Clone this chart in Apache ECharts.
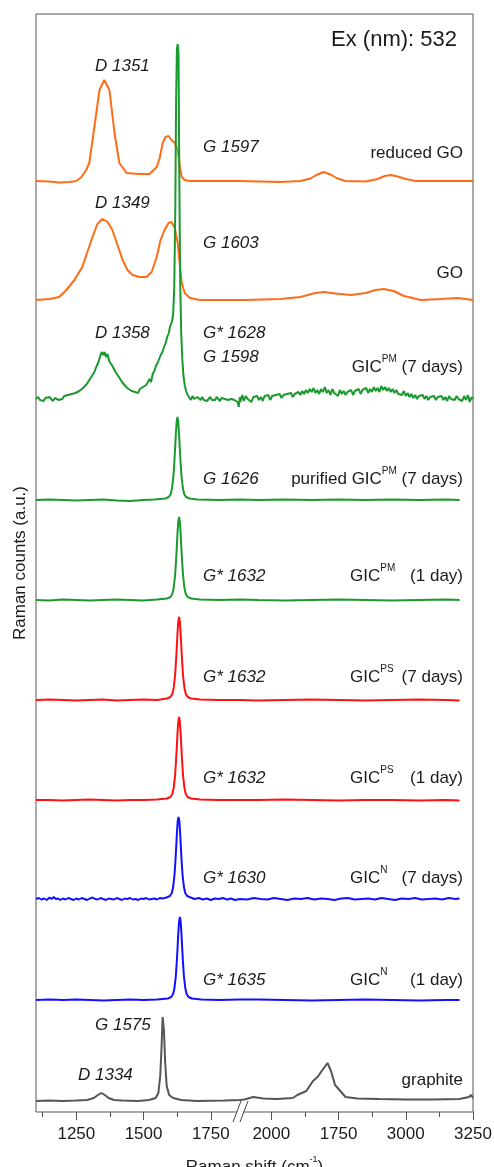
<!DOCTYPE html>
<html>
<head>
<meta charset="utf-8">
<script src="https://cdn.jsdelivr.net/npm/echarts@6/dist/echarts.min.js"></script>
<style>
html, body { margin: 0; padding: 0; background: #fff; }
#chart { width: 494px; height: 1167px; }
</style>
</head>
<body>
<div id="chart"></div>
<script>
var FONT = '"Liberation Sans", Arial, sans-serif';

// broken x axis: 1860..2385 cm-1 is cut out
var breakFrom = 1860, breakTo = 2385;
function toAxis(v) { return v <= breakFrom ? v : v - (breakTo - breakFrom); }

var majorTicks = [1250, 1500, 1750, 2500, 2750, 3000, 3250];
var tickLabels = ['1250', '1500', '1750', '2000', '1750', '3000', '3250'];
var minorTicks = [1125, 1375, 1625, 2625, 2875, 3125];

var names = ['reduced GO', 'GO', 'GIC PM 7d', 'purified GIC PM 7d', 'GIC PM 1d',
             'GIC PS 7d', 'GIC PS 1d', 'GIC N 7d', 'GIC N 1d', 'graphite'];
var colors = ['#ff6c17', '#ff6c17', '#1a9a2e', '#1a9a2e', '#1a9a2e',
              '#ff1111', '#ff1111', '#1111ff', '#1111ff', '#555555'];
// vertical offset of each trace (a.u.)
var baselines = [931, 812, 713, 612, 512, 412, 312, 213, 112, 11];

// [Raman shift cm-1, counts above baseline]
var rgo = [[1100,0],[1150,-0.5],[1186,-1.5],[1224,-1],[1250,0],[1269,4],[1287,11],[1298,18],[1317,54],[1336,91],[1354,101],[1373,91],[1392,48],[1410,18],[1437,8],[1485,7],[1522,7],[1549,14],[1560,23],[1571,38],[1582,44],[1593,45],[1604,41],[1616,38],[1627,31],[1634,16],[1642,4],[1653,1],[1672,0],[1858,0],
  [2385,-1],[2530,-1],[2608,0],[2646,2.5],[2668,6],[2694,9],[2720,6.5],[2746,2.5],[2776,0],[2850,-0.5],[2896,2],[2922,5],[2944,6],[2970,4.5],[3000,2],[3037,0],[3250,0]];

var go = [[1100,0],[1149,1],[1186,3],[1213,10],[1243,20],[1272,33],[1291,48],[1310,63],[1328,76],[1347,81],[1366,78],[1384,70],[1403,55],[1422,40],[1440,30],[1459,25],[1485,23],[1511,23],[1530,28],[1549,43],[1563,60],[1578,70],[1593,77],[1604,78],[1616,72],[1627,57],[1634,38],[1642,17],[1653,7],[1672,2],[1709,0],[1858,0],
  [2403,0],[2534,1],[2608,3],[2664,7],[2694,8],[2739,6.5],[2795,5],[2851,7],[2888,10],[2918,11],[2955,9],[2993,4],[3056,0],[3131,1],[3194,2],[3250,0]];

var gicPm7 = [[1100,0],[1108,2],[1115,-1],[1122,1],[1128,-2],[1135,1],[1142,-1],[1150,2],[1156,0],[1163,-2],[1170,1],[1177,2],[1184,-1],[1191,1],[1198,0],[1205,3],[1212,1],[1219,4],[1226,2],[1233,5],[1240,3],[1247,6],[1254,4],[1261,8],[1268,7],[1275,11],[1282,10],[1289,15],[1296,17],[1303,21],[1310,24],[1317,27],[1324,32],[1331,36],[1338,42],[1344,47],[1350,44],[1355,47],[1360,42],[1366,45],[1372,38],[1378,40],[1384,33],[1390,31],[1396,27],[1402,28],[1408,22],[1414,20],[1420,17],[1426,18],[1432,13],[1438,14],[1444,10],[1450,11],[1456,8],[1462,10],[1468,7],[1474,9],[1480,6],[1486,10],[1492,8],[1498,12],[1504,10],[1510,14],[1516,12],[1522,20],[1528,17],[1534,25],[1540,28],[1546,33],[1552,36],[1558,40],[1564,44],[1570,47],[1576,52],[1582,56],[1588,62],[1594,66],[1598,72],[1602,70],[1606,78],[1610,85],[1614,110],[1618,190],[1621,300],[1624,350],[1627,355],[1630,345],[1633,220],[1636,120],[1640,66],[1644,40],[1648,24],[1653,14],[1658,8],[1664,4],[1670,2],[1676,-1],[1682,3],[1688,0],[1694,-2],[1700,2],[1706,0],[1712,-1],[1718,2],[1724,-1],[1730,1],[1736,-2],[1742,0],[1748,2],[1754,-1],[1760,1],[1766,-1],[1772,2],[1778,0],[1784,-2],[1790,1],[1796,-1],[1802,0],[1808,2],[1814,-1],[1820,1],[1826,0],[1832,2],[1838,-1],[1844,1],[1850,-3],[1854,-8],[1858,2],
  [2385,-3],[2392,4],[2398,-2],[2405,3],[2412,0],[2419,2],[2426,-3],[2433,2],[2440,0],[2447,3],[2454,-1],[2461,2],[2468,-2],[2475,3],[2482,1],[2489,4],[2496,-1],[2503,3],[2510,1],[2517,4],[2524,2],[2531,5],[2538,1],[2545,4],[2552,2],[2559,5],[2566,3],[2573,6],[2580,2],[2587,5],[2594,3],[2601,7],[2608,4],[2615,8],[2622,5],[2629,9],[2636,6],[2643,10],[2650,7],[2657,11],[2664,6],[2671,9],[2678,5],[2685,10],[2692,7],[2699,12],[2706,6],[2713,9],[2720,4],[2727,10],[2734,6],[2741,8],[2748,3],[2755,9],[2762,5],[2769,8],[2776,4],[2783,7],[2790,5],[2797,9],[2804,4],[2811,8],[2818,6],[2825,10],[2832,5],[2839,9],[2846,7],[2853,11],[2860,6],[2867,10],[2874,7],[2881,12],[2888,8],[2895,11],[2902,7],[2909,13],[2916,9],[2923,12],[2930,8],[2937,11],[2944,7],[2951,10],[2958,6],[2965,9],[2972,5],[2979,7],[2986,4],[2993,8],[3000,3],[3007,6],[3014,2],[3021,5],[3028,1],[3035,4],[3042,0],[3049,3],[3056,1],[3063,4],[3070,0],[3077,3],[3084,-1],[3091,2],[3098,0],[3105,3],[3112,-1],[3119,2],[3126,0],[3133,3],[3140,-1],[3147,2],[3154,-2],[3161,3],[3168,0],[3175,2],[3182,-1],[3189,3],[3196,0],[3203,2],[3210,-2],[3217,3],[3224,-1],[3231,4],[3238,-3],[3245,2],[3250,0]];

var purPm7 = [[1100,0],[1150,0.5],[1200,0],[1250,-0.5],[1300,0],[1350,0.5],[1400,-0.5],[1450,-1],[1500,0],[1540,0.5],[1581,1.5],[1594,3],[1601,6],[1606,12],[1611,24],[1614,36],[1617,50],[1620,66],[1623,78],[1626,83],[1629,78],[1632,66],[1635,50],[1638,36],[1641,24],[1646,12],[1651,6],[1658,3],[1671,1.5],[1700,0.5],[1780,0],[1858,0.5],
  [2385,-0.5],[2450,0],[2550,0.5],[2650,0],[2750,0.5],[2850,0],[2950,0.5],[3050,0],[3150,0.5],[3200,0]];

var pm1 = [[1100,0],[1150,-0.5],[1200,0.5],[1250,0],[1300,-0.5],[1350,0],[1400,0.5],[1450,0],[1500,-0.5],[1550,0.5],[1587,1.5],[1600,3],[1607,6],[1612,12],[1617,24],[1620,36],[1623,50],[1626,66],[1629,78],[1632,83],[1635,78],[1638,66],[1641,50],[1644,36],[1647,24],[1652,12],[1657,6],[1664,3],[1677,1.5],[1710,0.5],[1780,0],[1858,0.5],
  [2385,-0.5],[2450,0],[2550,-0.5],[2650,0],[2750,0.5],[2850,0],[2950,-0.5],[3050,0],[3150,0.5],[3200,0]];

var ps7 = [[1100,0],[1150,0.5],[1200,0],[1250,-0.5],[1300,0],[1350,0.5],[1400,-0.5],[1450,0],[1500,0.5],[1550,0],[1587,1.5],[1600,3],[1607,6],[1612,12],[1617,24],[1620,36],[1623,50],[1626,66],[1629,78],[1632,83],[1635,78],[1638,66],[1641,50],[1644,36],[1647,24],[1652,12],[1657,6],[1664,3],[1677,1.5],[1710,0.5],[1780,0],[1858,0],
  [2385,0],[2450,-0.5],[2550,0],[2650,0.5],[2750,0],[2850,-0.5],[2950,0],[3050,0.5],[3150,0],[3200,-0.5]];

var ps1 = [[1100,0],[1150,0],[1200,-0.5],[1250,0],[1300,0.5],[1350,0],[1400,-0.5],[1450,0],[1500,0],[1550,0.5],[1587,1.5],[1600,3],[1607,6],[1612,12],[1617,24],[1620,36],[1623,50],[1626,66],[1629,78],[1632,83],[1635,78],[1638,66],[1641,50],[1644,36],[1647,24],[1652,12],[1657,6],[1664,3],[1677,1.5],[1710,0.5],[1780,0],[1858,0],
  [2385,-0.5],[2450,0],[2550,0.5],[2650,0],[2750,-0.5],[2850,0],[2950,0],[3050,-0.5],[3150,0],[3200,-0.5]];

var n7 = [[1100,0],[1110,1],[1120,-0.5],[1130,0.5],[1140,-1],[1150,1.5],[1158,0],[1166,2],[1174,0],[1182,0.5],[1190,-1],[1200,0.5],[1210,-0.5],[1220,1],[1230,0],[1240,-1],[1250,0.5],[1260,-0.5],[1270,1],[1280,0],[1290,-1],[1300,0.5],[1310,1.5],[1320,0],[1330,-0.5],[1340,1],[1350,0],[1360,-1],[1370,0.5],[1380,0],[1390,-0.5],[1400,1],[1410,0],[1420,-1],[1430,0.5],[1440,0],[1450,1],[1460,-0.5],[1470,0],[1480,-1],[1490,0.5],[1500,0],[1510,1],[1520,-0.5],[1530,0],[1540,0.5],[1550,-0.5],[1560,1],[1570,0.5],[1585,1.5],[1598,3],[1605,6],[1610,12],[1615,24],[1618,36],[1621,50],[1624,66],[1627,78],[1630,82],[1633,78],[1636,66],[1639,50],[1642,36],[1645,24],[1650,12],[1655,6],[1662,3],[1675,1.5],[1690,0],[1705,1],[1720,-0.5],[1735,0.5],[1750,-1],[1765,0.5],[1780,0],[1795,1],[1810,-0.5],[1825,0.5],[1840,-1],[1858,0],
  [2385,0.5],[2410,-0.5],[2435,1],[2460,0],[2485,-0.5],[2510,1],[2535,0],[2560,-1],[2585,0.5],[2610,0],[2635,1],[2660,-0.5],[2685,0.5],[2710,0],[2735,-1],[2760,0.5],[2785,1],[2810,-0.5],[2835,0],[2860,0.5],[2885,-0.5],[2910,1],[2935,0],[2960,-1],[2985,0.5],[3010,0],[3035,1],[3060,-0.5],[3085,0],[3110,0.5],[3135,-0.5],[3160,1],[3185,0],[3200,0.5]];

var n1 = [[1100,0],[1150,0.5],[1200,0],[1250,0.5],[1300,0],[1350,-0.5],[1400,0],[1450,0.5],[1500,0],[1550,0.5],[1590,1.5],[1603,3],[1610,6],[1615,12],[1620,24],[1623,36],[1626,50],[1629,66],[1632,78],[1635,83],[1638,78],[1641,66],[1644,50],[1647,36],[1650,24],[1655,12],[1660,6],[1667,3],[1680,1.5],[1715,0.5],[1780,0],[1858,0.5],
  [2385,0],[2450,0.5],[2550,0],[2650,-0.5],[2750,0],[2850,0.5],[2950,0],[3050,-0.5],[3150,0],[3200,0]];

var graphite = [[1100,0],[1150,0.5],[1200,0],[1250,0.5],[1290,1],[1315,3],[1330,6],[1343,8],[1356,6],[1370,3],[1390,1],[1420,0.5],[1480,0],[1520,1],[1545,3],[1555,8],[1562,25],[1567,55],[1571,84],[1576,70],[1580,40],[1586,15],[1595,6],[1610,3],[1640,1],[1700,0],[1800,0.5],[1858,1],
  [2385,1],[2400,1.5],[2433,4],[2470,2.5],[2520,2],[2580,3],[2597,6],[2630,10],[2655,20],[2672,24],[2690,31],[2709,38],[2722,30],[2737,16],[2750,12],[2776,4],[2820,2.5],[2900,2],[3000,1.5],[3100,1.5],[3200,2],[3235,4],[3243,6],[3250,3]];

var spectra = [rgo, go, gicPm7, purPm7, pm1, ps7, ps1, n7, n1, graphite];

var majorAxis = majorTicks.map(toAxis);
var minorAxis = minorTicks.map(toAxis);

var series = spectra.map(function (pts, i) {
    return {
        type: 'line',
        name: names[i],
        showSymbol: false,
        silent: true,
        lineStyle: { color: colors[i], width: 2 },
        itemStyle: { color: colors[i] },
        data: pts.map(function (p) { return [toAxis(p[0]), baselines[i] + p[1]]; })
    };
});

// text annotations
function t(x, y, text, align, size, italic) {
    return {
        type: 'text', x: x, y: y, silent: true,
        style: {
            text: text, fill: '#1a1a1a', align: align || 'left', verticalAlign: 'middle',
            font: (italic ? 'italic ' : '') + (size || 17) + 'px ' + FONT
        }
    };
}
function tr(x, y, text, align) {
    return {
        type: 'text', x: x, y: y, silent: true,
        style: {
            text: text, fill: '#1a1a1a', align: align || 'left', verticalAlign: 'middle',
            rich: {
                b: { fontSize: 17, fontFamily: FONT, lineHeight: 26, fill: '#1a1a1a' },
                s: { fontSize: 10, fontFamily: FONT, lineHeight: 10, verticalAlign: 'top', fill: '#1a1a1a' }
            }
        }
    };
}

var peakLabels = [['D 1351', 95, 66], ['G 1597', 203, 147], ['D 1349', 95, 203], ['G 1603', 203, 243],
    ['D 1358', 95, 333], ['G* 1628', 203, 333], ['G 1598', 203, 357], ['G 1626', 203, 479],
    ['G* 1632', 203, 576], ['G* 1632', 203, 677], ['G* 1632', 203, 778], ['G* 1630', 203, 878],
    ['G* 1635', 203, 980], ['G 1575', 95, 1025], ['D 1334', 78, 1075]];

var graphics = [t(457, 40, 'Ex (nm): 532', 'right', 22)];
peakLabels.forEach(function (l) { graphics.push(t(l[1], l[2], l[0], 'left', 17, true)); });
graphics.push(t(463, 153, 'reduced GO', 'right'));
graphics.push(t(463, 273, 'GO', 'right'));
graphics.push(t(463, 1080, 'graphite', 'right'));
graphics.push(tr(463, 367, '{b|GIC}{s|PM}{b| (7 days)}', 'right'));
graphics.push(tr(463, 479, '{b|purified GIC}{s|PM}{b| (7 days)}', 'right'));
graphics.push(tr(350, 576, '{b|GIC}{s|PM}'));
graphics.push(t(463, 576, '(1 day)', 'right'));
graphics.push(tr(350, 677, '{b|GIC}{s|PS}'));
graphics.push(t(463, 677, '(7 days)', 'right'));
graphics.push(tr(350, 778, '{b|GIC}{s|PS}'));
graphics.push(t(463, 778, '(1 day)', 'right'));
graphics.push(tr(350, 878, '{b|GIC}{s|N}'));
graphics.push(t(463, 878, '(7 days)', 'right'));
graphics.push(tr(350, 980, '{b|GIC}{s|N}'));
graphics.push(t(463, 980, '(1 day)', 'right'));
// axis break marks
graphics.push({ type: 'polygon', silent: true, shape: { points: [[234, 1121], [241, 1101], [247, 1101], [240, 1121]] },
    style: { fill: '#fff' } });
graphics.push({ type: 'line', silent: true, shape: { x1: 233, y1: 1122, x2: 241, y2: 1101 }, style: { stroke: '#444', lineWidth: 1 } });
graphics.push({ type: 'line', silent: true, shape: { x1: 240, y1: 1122, x2: 248, y2: 1101 }, style: { stroke: '#444', lineWidth: 1 } });

var chart = echarts.init(document.getElementById('chart'));
var option = {
    animation: false,
    backgroundColor: '#fff',
    grid: { left: 36, right: 21, top: 14, bottom: 55, show: true, borderColor: '#555', borderWidth: 1,
        outerBoundsMode: 'none' },
    xAxis: [{
        type: 'value', min: 1100, max: toAxis(3250),
        axisLine: { show: false },
        splitLine: { show: false },
        axisTick: { show: true, length: 8, customValues: majorAxis, lineStyle: { color: '#555' } },
        axisLabel: {
            customValues: majorAxis, fontSize: 17, fontFamily: FONT, color: '#1a1a1a', margin: 14,
            showMinLabel: true, showMaxLabel: true,
            formatter: function (v) { return tickLabels[majorAxis.indexOf(v)]; }
        },
        name: '{a|Raman shift (cm}{s|-1}{a|)}',
        nameLocation: 'middle', nameGap: 43,
        nameTextStyle: {
            rich: {
                a: { fontSize: 17, fontFamily: FONT, color: '#1a1a1a', lineHeight: 24 },
                s: { fontSize: 9, fontFamily: FONT, color: '#1a1a1a', lineHeight: 10, verticalAlign: 'top' }
            }
        }
    }, {
        type: 'value', min: 1100, max: toAxis(3250), position: 'bottom',
        axisLine: { show: false }, splitLine: { show: false }, axisLabel: { show: false },
        axisTick: { show: true, length: 5, customValues: minorAxis, lineStyle: { color: '#555' } }
    }],
    yAxis: {
        type: 'value', min: 0, max: 1098,
        axisLine: { show: false }, axisTick: { show: false }, axisLabel: { show: false },
        splitLine: { show: false },
        name: 'Raman counts (a.u.)', nameLocation: 'middle', nameGap: 7, nameRotate: 90,
        nameTextStyle: { fontSize: 17, fontFamily: FONT, color: '#1a1a1a' }
    },
    series: series,
    graphic: graphics
};
chart.setOption(option);
</script>
</body>
</html>
